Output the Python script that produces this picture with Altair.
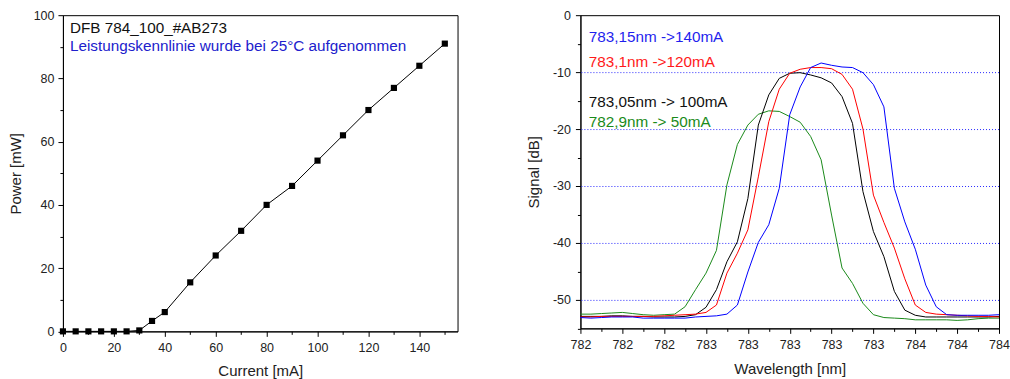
import altair as alt
import pandas as pd

# ---------------- Left panel data (P-I curve) ----------------
current_ma = [0, 5, 10, 15, 20, 25, 30, 35, 40, 50, 60, 70, 80, 90, 100, 110, 120, 130, 140, 150]
power_mw = [0, 0, 0, 0, 0, 0, 0.3, 3.3, 6.1, 15.5, 24.0, 31.8, 40.0, 46.0, 54.0, 62.0, 70.0, 77.0, 84.0, 91.0]

# ---------------- Right panel data (spectra) ----------------
wavelength_nm = [782.00, 782.05, 782.10, 782.15, 782.20, 782.25, 782.30, 782.35, 782.40, 782.45,
                 782.50, 782.55, 782.60, 782.65, 782.70, 782.75, 782.80, 782.85, 782.90, 782.95,
                 783.00, 783.05, 783.10, 783.15, 783.20, 783.25, 783.30, 783.35, 783.40, 783.45,
                 783.50, 783.55, 783.60, 783.65, 783.70, 783.75, 783.80, 783.85, 783.90, 783.95,
                 784.00]

sig_140ma = [-53.1, -53.2, -53.1, -53.0, -53.0, -53.0, -53.2, -53.2, -53.2, -53.2,
             -53.2, -53.0, -52.9, -52.8, -52.5, -50.9, -45.1, -39.9, -36.8, -30.4,
             -17.5, -12.6, -9.2, -8.4, -8.8, -9.1, -9.2, -10.1, -12.2, -16.1,
             -30.4, -36.3, -41.1, -47.4, -51.2, -52.6, -52.7, -52.7, -52.7, -52.7,
             -52.6]
sig_120ma = [-53.0, -53.0, -52.9, -52.9, -52.9, -52.9, -52.9, -52.9, -52.8, -52.7,
             -52.6, -52.5, -52.2, -50.9, -45.3, -41.8, -37.7, -28.4, -18.7, -13.0,
             -10.2, -9.5, -9.2, -9.2, -9.4, -10.4, -13.0, -20.0, -31.6, -36.4,
             -40.9, -46.3, -50.9, -52.2, -52.5, -52.6, -52.7, -52.8, -52.9, -52.9,
             -53.0]
sig_100ma = [-52.9, -52.9, -52.9, -52.8, -52.8, -52.9, -52.9, -53.0, -53.0, -53.0,
             -52.9, -52.6, -51.3, -48.2, -43.3, -39.8, -32.2, -19.3, -14.0, -11.1,
             -10.2, -10.1, -10.5, -11.0, -11.9, -14.3, -19.0, -31.0, -38.0, -42.4,
             -48.5, -51.8, -52.7, -53.0, -53.0, -53.0, -53.0, -53.0, -53.0, -53.0,
             -52.9]
sig_50ma = [-52.5, -52.5, -52.4, -52.3, -52.2, -52.4, -52.6, -52.7, -52.6, -52.5,
            -51.2, -48.2, -45.3, -41.3, -29.8, -22.7, -19.3, -17.4, -16.8, -16.9,
            -17.8, -18.8, -21.3, -25.4, -35.1, -44.4, -47.1, -50.6, -52.6, -53.1,
            -53.2, -53.3, -53.5, -53.5, -53.5, -53.5, -53.6, -53.5, -53.3, -53.2,
            -53.2]

series_names = ["50mA", "100mA", "120mA", "140mA"]
series_values = [sig_50ma, sig_100ma, sig_120ma, sig_140ma]
series_colors = ["#1a8a1a", "#000000", "#ff0000", "#0000ff"]

legend_labels = ["783,15nm ->140mA", "783,1nm ->120mA", "783,05nm -> 100mA", "782,9nm -> 50mA"]
legend_y = [-3.75, -8.3, -15.2, -18.7]
legend_colors = ["#1f1fee", "#ff1a1a", "#111111", "#1a8a1a"]

grid_db = [-10, -20, -30, -40, -50]

left_x_ticks = [0, 10, 20, 30, 40, 50, 60, 70, 80, 90, 100, 110, 120, 130, 140, 150]
left_y_ticks = [0, 10, 20, 30, 40, 50, 60, 70, 80, 90, 100]
right_x_ticks = [782.0, 782.1, 782.2, 782.3, 782.4, 782.5, 782.6, 782.7, 782.8, 782.9, 783.0,
                 783.1, 783.2, 783.3, 783.4, 783.5, 783.6, 783.7, 783.8, 783.9, 784.0]
right_y_ticks = [0, -5, -10, -15, -20, -25, -30, -35, -40, -45, -50, -55]

FONT = "Liberation Sans"

df_pi = pd.DataFrame({"current": current_ma, "power": power_mw})
rows = []
for name, vals in zip(series_names, series_values):
    for w, v in zip(wavelength_nm, vals):
        rows.append({"wl": w, "sig": v, "series": name})
df_sp = pd.DataFrame(rows)


def minor_size(test):
    return {"condition": {"test": test, "value": 5}, "value": 3}


# ---------------- Left chart ----------------
lx = alt.X("current:Q", title="Current [mA]",
           scale=alt.Scale(domain=[0, 155], nice=False, zero=False),
           axis=alt.Axis(values=left_x_ticks, grid=False, labelFlush=False, labelOverlap=False,
                         labelExpr="datum.value % 20 === 0 ? datum.label : ''",
                         tickSize=minor_size("datum.value % 20 === 0"),
                         labelPadding=5, titlePadding=10))
ly = alt.Y("power:Q", title="Power [mW]",
           scale=alt.Scale(domain=[0, 100], nice=False),
           axis=alt.Axis(values=left_y_ticks, grid=False, labelFlush=False, labelOverlap=False,
                         labelExpr="datum.value % 20 === 0 ? datum.label : ''",
                         tickSize=minor_size("datum.value % 20 === 0"),
                         labelPadding=4, titlePadding=10))

df_lt = pd.DataFrame({"current": [2.75], "power": [96.0]})
df_lt2 = pd.DataFrame({"current": [2.75], "power": [90.1]})

base_l = alt.Chart(df_pi)
pi_line = base_l.mark_line(color="black", strokeWidth=1).encode(x=lx, y=ly)
pi_pts = base_l.mark_square(color="black", size=38, opacity=1).encode(x=lx, y=ly)
l_text1 = alt.Chart(df_lt).mark_text(align="left", baseline="middle", font=FONT, fontSize=15.3,
                                     color="#111111", text="DFB 784_100_#AB273").encode(x=lx, y=ly)
l_text2 = alt.Chart(df_lt2).mark_text(align="left", baseline="middle", font=FONT, fontSize=15.3,
                                      color="#2020cc",
                                      text="Leistungskennlinie wurde bei 25°C aufgenommen").encode(x=lx, y=ly)

left = alt.layer(pi_line, pi_pts, l_text1, l_text2).properties(width=395, height=316.5)

# ---------------- Right chart ----------------
rx = alt.X("wl:Q", title="Wavelength [nm]",
           scale=alt.Scale(domain=[782, 784], nice=False, zero=False),
           axis=alt.Axis(values=right_x_ticks, grid=False, labelFlush=False, labelOverlap=False,
                         format=".0f",
                         labelExpr="round(datum.value * 10) % 2 === 0 ? datum.label : ''",
                         tickSize=minor_size("round(datum.value * 10) % 2 === 0"),
                         labelPadding=5, titlePadding=11))
ry = alt.Y("sig:Q", title="Signal [dB]",
           scale=alt.Scale(domain=[-55, 0], nice=False, zero=False),
           axis=alt.Axis(values=right_y_ticks, grid=False, labelFlush=False, labelOverlap=False,
                         labelExpr="abs(datum.value) % 10 === 0 ? '' + datum.value : ''",
                         tickSize=minor_size("abs(datum.value) % 10 === 0"),
                         labelPadding=5, titlePadding=11))

df_grid = pd.DataFrame({"sig": grid_db})
grid = alt.Chart(df_grid).mark_rule(
    color="#2a2aff", strokeWidth=1, strokeDash=[1, 2], yOffset=0.5).encode(y=ry)

spectra = alt.Chart(df_sp).mark_line(strokeWidth=1).encode(
    x=rx, y=ry,
    color=alt.Color("series:N", scale=alt.Scale(domain=series_names, range=series_colors), legend=None),
    order=alt.Order("wl:Q"))

df_rt = pd.DataFrame({"wl": [782.04] * 4, "sig": legend_y, "t": legend_labels, "c": legend_colors})
r_text = alt.Chart(df_rt).mark_text(align="left", baseline="middle", font=FONT, fontSize=15.3).encode(
    x=rx, y=ry, text="t:N", color=alt.Color("c:N", scale=None))

right = alt.layer(grid, spectra, r_text).resolve_scale(color="independent").properties(width=419, height=313.5)

chart = alt.hconcat(left, right, spacing=67).properties(
    padding={"left": 7, "top": 8, "right": 0, "bottom": 0}
).configure_view(stroke="black", strokeWidth=1).configure_axis(
    domainColor="black", tickColor="black", labelColor="#222222", titleColor="#222222",
    labelFont=FONT, titleFont=FONT, labelFontSize=12.5, titleFontSize=15, titleFontWeight="normal",
    domainWidth=1, tickWidth=1
)

chart.save("out.html", embed_options={"renderer": "svg", "actions": False})
